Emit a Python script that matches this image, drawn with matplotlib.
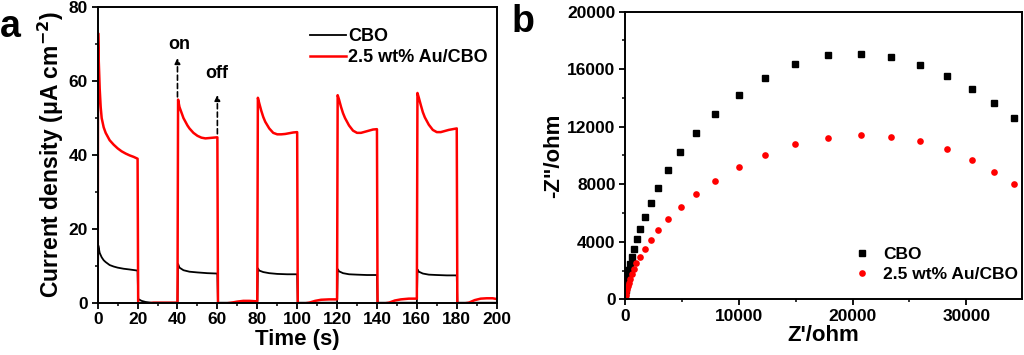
import numpy as np
import matplotlib
matplotlib.use("Agg")
import matplotlib.pyplot as plt

plt.rcParams['font.family'] = ['Liberation Sans', 'DejaVu Sans']
plt.rcParams['font.weight'] = 'bold'
plt.rcParams['mathtext.default'] = 'bf'

# ---- panel a: photocurrent vs time (t in s, j in uA cm^-2) ----
red_pts = [
    (0, 0), (0.2, 73), (0.5, 66), (1, 58), (1.5, 53), (2, 50), (3, 47.5), (4, 46),
    (5, 45), (6, 44), (8, 42.8), (10, 41.8), (12, 41), (14, 40.4), (16, 39.9),
    (18, 39.5), (20, 39),
    (20.3, -0.5), (28, 0), (40, 0),
    (40.3, 55), (41, 53), (42, 51.5), (43, 50), (44, 49), (45, 48), (46, 47.2),
    (48, 46), (50, 45.2), (52, 44.7), (54, 44.5), (56, 44.6), (58, 44.7), (60, 44.8),
    (60.3, -0.5), (67, 0), (70, 0.3), (73, 0.5), (76, 0.5), (79, 0.4), (80, 0.4),
    (80.3, 55.5), (81, 54), (82, 52), (83, 50.3), (84, 49), (86, 47.2), (88, 46),
    (90, 45.6), (92, 45.6), (94, 45.7), (96, 45.9), (98, 46.1), (100, 46.2),
    (100.3, -0.5), (106, 0), (109, 0.5), (112, 0.8), (116, 0.9), (119, 0.9), (120, 0.9),
    (120.3, 56.2), (121, 55), (122, 53), (123, 51.3), (124, 50), (126, 48), (128, 46.6),
    (130, 46), (132, 46), (134, 46.3), (136, 46.6), (138, 46.9), (140, 47),
    (140.3, -0.5), (146, 0), (149, 0.6), (152, 0.9), (156, 1.1), (159, 1.1), (160, 1.1),
    (160.3, 56.8), (161, 55.5), (162, 53.5), (163, 51.6), (164, 50.2), (166, 48.2),
    (168, 46.8), (170, 46.2), (172, 46.2), (174, 46.5), (176, 46.8), (178, 47), (180, 47.2),
    (180.3, -0.5), (186, 0), (189, 0.7), (192, 1.1), (195, 1.2), (198, 1.2), (200, 1.0),
]
black_pts = [
    (0, 0), (0.3, 15.5), (1, 13.5), (2, 12.3), (3, 11.5), (4, 11), (6, 10.2), (8, 9.8),
    (10, 9.5), (13, 9.2), (16, 9), (20, 8.7),
    (20.3, 1.0), (22, 0.5), (24, 0.2), (27, 0), (40, 0),
    (40.3, 10.5), (41, 9.5), (43, 8.8), (46, 8.4), (50, 8.2), (55, 8.0), (60, 7.9),
    (60.3, 0), (80, 0),
    (80.3, 9.3), (81, 8.7), (83, 8.3), (86, 8.0), (90, 7.8), (95, 7.7), (100, 7.7),
    (100.3, 0), (120, 0),
    (120.3, 9.1), (121, 8.5), (123, 8.0), (126, 7.7), (130, 7.6), (135, 7.5), (140, 7.5),
    (140.3, 0), (160, 0),
    (160.3, 9.0), (161, 8.4), (163, 7.9), (166, 7.6), (170, 7.5), (175, 7.4), (180, 7.4),
    (180.3, 0), (200, 0),
]

# ---- panel b: Nyquist plot (ohm) ----
cbo_zre = [34170, 32470, 30500, 28300, 25900, 23380, 20710, 17830, 14930, 12260,
           9970, 7920, 6250, 4840, 3750, 2870, 2230, 1700, 1290, 1000, 760, 560,
           380, 260, 180, 120, 60, 30, 10]
cbo_zim = [12624, 13641, 14612, 15514, 16300, 16831, 17063, 16970, 16392, 15398,
           14219, 12901, 11560, 10242, 8970, 7768, 6705, 5734, 4878, 4162, 3514, 2959,
           2451, 2035, 1688, 1341, 994, 647, 300]
au_zre = [34170, 32410, 30500, 28300, 25900, 23380, 20710, 17830, 14930, 12260,
          9970, 7920, 6250, 4870, 3750, 2900, 2230, 1700, 1290, 970, 730, 560,
          410, 290, 200, 150, 90, 30, 0]
au_zim = [8023, 8878, 9710, 10473, 10982, 11306, 11398, 11236, 10774, 10057,
          9179, 8254, 7306, 6404, 5549, 4786, 4115, 3514, 2959, 2497, 2081, 1734,
          1433, 1156, 925, 717, 509, 300, 116]

fig = plt.figure(figsize=(10.24, 3.55), dpi=100)
axa = fig.add_axes([0.0954, 0.1473, 0.3896, 0.8321])
axb = fig.add_axes([0.6106, 0.157, 0.3874, 0.81])

def style(ax):
    for s in ax.spines.values():
        s.set_linewidth(1.4)
    ax.tick_params(which='major', direction='out', length=4, width=1.3,
                   labelsize=12.5, pad=3)
    ax.tick_params(which='minor', direction='out', length=2.5, width=1.1)
    for lab in ax.get_xticklabels() + ax.get_yticklabels():
        lab.set_fontweight('bold')

tb, jb = np.array(black_pts).T
tr, jr = np.array(red_pts).T
axa.plot(tb, jb, color='black', lw=1.3, label='CBO')
axa.plot(tr, jr, color='#ff0000', lw=1.8, label='2.5 wt% Au/CBO')
axa.set_xlim(0, 200)
axa.set_ylim(0, 80)
axa.set_xticks(np.arange(0, 201, 20))
axa.set_xticks(np.arange(10, 200, 20), minor=True)
axa.set_yticks(np.arange(0, 81, 20))
axa.set_yticks(np.arange(10, 80, 20), minor=True)
style(axa)
axa.set_xlabel('Time (s)', fontsize=16, fontweight='bold', labelpad=1)
axa.set_ylabel('Current density (\u03bcA cm$^{-2}$)', fontsize=16.5,
               fontweight='bold', labelpad=2)
axa.legend(loc='upper right', frameon=False, fontsize=13, handlelength=2.0,
           handletextpad=0.1, borderaxespad=0.0, labelspacing=0.25,
           bbox_to_anchor=(0.995, 0.955))

# on/off arrows
axa.annotate('', xy=(40, 67), xytext=(40, 55),
             arrowprops=dict(arrowstyle='-|>', linestyle=(0, (3, 2)), color='black',
                             lw=1.2, mutation_scale=8))
axa.annotate('', xy=(60, 57), xytext=(60, 45),
             arrowprops=dict(arrowstyle='-|>', linestyle=(0, (3, 2)), color='black',
                             lw=1.2, mutation_scale=8))
axa.text(41, 70, 'on', fontsize=13, fontweight='bold', ha='center', va='center')
axa.text(59.5, 62, 'off', fontsize=13, fontweight='bold', ha='center', va='center')

axb.plot(cbo_zre, cbo_zim, 's', color='black', ms=4.8, label='CBO')
axb.plot(au_zre, au_zim, 'o', color='#ff0000', ms=4.8, mec='none', label='2.5 wt% Au/CBO')
axb.set_xlim(0, 34900)
axb.set_ylim(0, 20000)
axb.set_xticks([0, 10000, 20000, 30000])
axb.set_xticks([5000, 15000, 25000], minor=True)
axb.set_yticks(np.arange(0, 20001, 4000))
axb.set_yticks(np.arange(2000, 20000, 4000), minor=True)
style(axb)
axb.set_xlabel("Z'/ohm", fontsize=16, fontweight='bold', labelpad=1)
axb.set_ylabel('-Z"/ohm', fontsize=16, fontweight='bold', labelpad=2)
axb.legend(loc='lower right', frameon=False, fontsize=12.5, handlelength=1.6,
           handletextpad=0.4, borderaxespad=0.0, labelspacing=0.3,
           bbox_to_anchor=(1.008, 0.035))

fig.text(0.0, 0.975, 'a', fontsize=27, fontweight='bold', va='top', ha='left')
fig.text(0.5, 0.99, 'b', fontsize=27, fontweight='bold', va='top', ha='left')

fig.savefig('out.png', dpi=100)
